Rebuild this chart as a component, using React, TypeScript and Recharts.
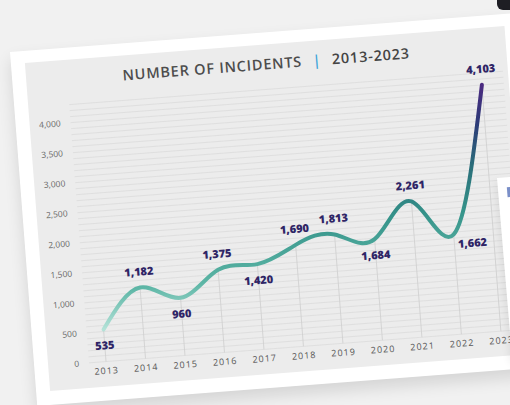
import { LineChart, Line, XAxis, YAxis, CartesianGrid, ReferenceLine, LabelList } from "recharts";

// incidents per year, as labelled on the chart
const years = [2013, 2014, 2015, 2016, 2017, 2018, 2019, 2020, 2021, 2022, 2023];
const incidents = [535, 1182, 960, 1375, 1420, 1690, 1813, 1684, 2261, 1662, 4103];
const yTicks = [0, 500, 1000, 1500, 2000, 2500, 3000, 3500, 4000];
const yMax = 4300;
// where each value label sits relative to its point
const labelPlacement = ["below", "above", "below", "above", "below", "above", "above", "below", "above", "right", "above"];

// thin ruled lines every 100 (decoration only)
const gridValues = Array.from({ length: 44 }, (_, i) => i * 100);

const data = years.map((year, i) => ({ year, incidents: incidents[i] }));

const fmt = (v: number) => v.toLocaleString("en-US");

function ValueLabel(props: any) {
  const { x, y, value, index } = props;
  const place = labelPlacement[index];
  let tx = x;
  let ty = y - 12;
  if (place === "below") ty = y + 20;
  if (place === "right") {
    tx = x + 18;
    ty = y + 14;
  }
  return (
    <text
      x={tx}
      y={ty}
      textAnchor="middle"
      fill="#2f2566"
      fontSize={11}
      fontWeight={800}
      fontFamily="'Open Sans', sans-serif"
    >
      {fmt(value)}
    </text>
  );
}

// grid rows every 100 units, mapped with the same linear domain as the y axis
const gridRows = (p: any) => {
  const top = p.offset?.top ?? 0;
  const h = p.offset?.height ?? p.height ?? 0;
  return gridValues.map((v) => top + h * (1 - v / yMax));
};

export default function App() {
  return (
    <div
      style={{
        position: "fixed",
        left: 0,
        top: 0,
        width: 510,
        height: 405,
        background: "#f1f1f1",
        overflow: "hidden",
      }}
    >
      <div style={{ position: "absolute", left: 497, top: -6, width: 22, height: 16, borderRadius: 6, background: "#1e1e24" }} />
      <div
        style={{
          position: "absolute",
          left: 10,
          top: 52,
          width: 505,
          height: 355,
          background: "#fff",
          transform: "rotate(-4.4deg)",
          transformOrigin: "0 0",
          boxShadow: "0 8px 16px rgba(0,0,0,0.12)",
        }}
      >
        <div style={{ position: "absolute", left: 14, top: 12, width: 481, height: 329, background: "#ececec" }} />
        <div
          style={{
            position: "absolute",
            left: 14,
            width: 481,
            top: 22,
            textAlign: "center",
            fontFamily: "'Open Sans', sans-serif",
            fontSize: 14.5,
            fontWeight: 600,
            letterSpacing: 0.8,
            color: "#4d4d4d",
            whiteSpace: "nowrap",
          }}
        >
          NUMBER OF INCIDENTS <span style={{ color: "#3aa3d9", margin: "0 6px" }}>|</span>{" "}
          <span style={{ color: "#444" }}>2013-2023</span>
        </div>
        <div style={{ position: "absolute", left: 0, top: 0 }}>
          <LineChart width={505} height={350} data={data} margin={{ top: 57, right: 15, left: 10, bottom: 10 }}>
            <defs>
              <linearGradient id="lineGrad" x1="0" y1="0" x2="0" y2="1">
                <stop offset="0%" stopColor="#4b2a80" />
                <stop offset="18%" stopColor="#2c3b78" />
                <stop offset="38%" stopColor="#2a6f7a" />
                <stop offset="58%" stopColor="#35938a" />
                <stop offset="82%" stopColor="#5db6a6" />
                <stop offset="100%" stopColor="#b4e2d8" />
              </linearGradient>
            </defs>
            <CartesianGrid vertical={false} stroke="#dadada" strokeWidth={0.7} horizontalCoordinatesGenerator={gridRows} />
            {years.map((yr, i) => (
              <ReferenceLine
                key={yr}
                segment={[
                  { x: yr, y: 0 },
                  { x: yr, y: incidents[i] },
                ]}
                stroke="#cfcfcf"
                strokeWidth={0.8}
              />
            ))}
            <XAxis
              dataKey="year"
              type="number"
              domain={[2013, 2023]}
              ticks={years}
              interval={0}
              padding={{ left: 17, right: 22 }}
              axisLine={false}
              tickLine={false}
              tickMargin={0}
              height={24}
              tick={{ fill: "#555", fontSize: 9, letterSpacing: 1, fontFamily: "'Open Sans', sans-serif" }}
            />
            <YAxis
              width={45}
              domain={[0, yMax]}
              ticks={yTicks}
              tickFormatter={fmt}
              axisLine={false}
              tickLine={false}
              tickMargin={4}
              tick={{ fill: "#666", fontSize: 8.5, fontFamily: "'Open Sans', sans-serif" }}
            />
            <Line
              type="natural"
              dataKey="incidents"
              stroke="url(#lineGrad)"
              strokeWidth={4}
              strokeLinecap="round"
              dot={false}
              isAnimationActive={false}
            >
              <LabelList dataKey="incidents" content={<ValueLabel />} />
            </Line>
          </LineChart>
        </div>
      </div>
      <div
        style={{
          position: "absolute",
          left: 497,
          top: 178,
          width: 30,
          height: 182,
          background: "#fff",
          transform: "rotate(-4.8deg)",
          transformOrigin: "0 0",
          boxShadow: "-2px 4px 8px rgba(0,0,0,0.08)",
        }}
      >
        <div style={{ position: "absolute", left: 9, top: 10, width: 4, height: 10, background: "#7a8fc8" }} />
      </div>
    </div>
  );
}
